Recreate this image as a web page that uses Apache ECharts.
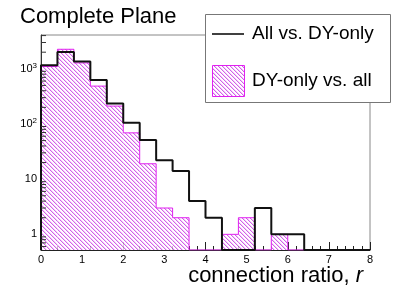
<!DOCTYPE html>
<html>
<head>
<meta charset="utf-8">
<script src="https://cdn.jsdelivr.net/npm/echarts@6.0.0/dist/echarts.min.js"></script>
<style>
html,body{margin:0;padding:0;background:#fff;}
#c{width:411px;height:295px;}
</style>
</head>
<body>
<div id="c"></div>
<script>
// ---- data ----
var binStart = 0;
var binWidth = 0.4;
var allVsDY = [1160, 2020, 1350, 625, 236, 105, 51, 22, 14, 4, 2, 0, 0, 3, 1, 1, 0, 0, 0, 0];
var dyVsAll = [1100, 2260, 1280, 486, 211, 69, 19, 3, 2, 0, 0, 1, 2, 0, 1, 0, 0, 0, 0, 0];
var xTicks = [0, 1, 2, 3, 4, 5, 6, 7, 8];
var minorMult = [2, 3, 4, 5, 6, 7, 8, 9];
var decades = [0.1, 1, 10, 100, 1000];
var yMin = 0.52, yMax = 4100;
var xMin = 0, xMax = 8;

var FONT = "'Liberation Sans', Arial, Helvetica, sans-serif";

// hatch pattern
function makeHatch() {
  var p = 4;
  var cv = document.createElement('canvas');
  cv.width = p * 4; cv.height = p * 4;
  var ctx = cv.getContext('2d');
  var img = ctx.createImageData(cv.width, cv.height);
  for (var y = 0; y < cv.height; y++) {
    for (var x = 0; x < cv.width; x++) {
      var d = ((x - y) % p + p) % p;
      var c;
      if (d === 0) c = [208, 100, 232];
      else if (d === 1) c = [246, 200, 251];
      else c = [255, 255, 255];
      var k = (y * cv.width + x) * 4;
      img.data[k] = c[0]; img.data[k + 1] = c[1]; img.data[k + 2] = c[2]; img.data[k + 3] = 255;
    }
  }
  ctx.putImageData(img, 0, 0);
  return cv;
}
var hatch = makeHatch();

function stepData(vals) {
  var pts = [[binStart, yMin]];
  for (var i = 0; i < vals.length; i++) {
    var x0 = binStart + i * binWidth;
    pts.push([x0, vals[i] > 0 ? vals[i] : yMin]);
  }
  var last = vals[vals.length - 1];
  pts.push([binStart + vals.length * binWidth, last > 0 ? last : yMin]);
  return pts;
}
function barData(vals) {
  var out = [];
  for (var i = 0; i < vals.length; i++) {
    if (vals[i] > 0) out.push([binStart + i * binWidth, binStart + (i + 1) * binWidth, vals[i]]);
  }
  return out;
}
var minorVals = [];
decades.forEach(function (d) {
  minorMult.forEach(function (m) {
    var v = d * m;
    if (v > yMin && v < yMax) minorVals.push([0, v]);
  });
});

var chart = echarts.init(document.getElementById('c'), null, {renderer: 'canvas'});
chart.setOption({
  animation: false,
  backgroundColor: '#fff',
  grid: {left: 41, right: 41, top: 35, bottom: 45, show: true, borderColor: '#888', borderWidth: 1, backgroundColor: 'transparent'},
  xAxis: {
    type: 'value', min: xMin, max: xMax, interval: 1,
    axisLine: {show: true, lineStyle: {color: '#222', width: 1}},
    axisTick: {show: true, inside: true, length: 8, lineStyle: {color: '#222'}},
    minorTick: {show: true, splitNumber: 5, length: 4, lineStyle: {color: '#222'}},
    axisLabel: {color: '#000', fontSize: 11, fontFamily: FONT, margin: 4},
    splitLine: {show: false}
  },
  yAxis: {
    type: 'log', logBase: 10, min: yMin, max: yMax,
    axisLine: {show: true, onZero: false, lineStyle: {color: '#333', width: 1}},
    axisTick: {show: true, inside: true, length: 9, lineStyle: {color: '#333'}},
    axisLabel: {
      color: '#000', fontSize: 11, fontFamily: FONT, margin: 4,
      showMinLabel: false, showMaxLabel: false,
      formatter: function (v) {
        var e = Math.round(Math.log10(v));
        if (Math.abs(Math.log10(v) - e) > 0.01) return '';
        if (e === 0) return '1';
        if (e === 1) return '10';
        return '10{s|' + e + '}';
      },
      rich: {s: {fontSize: 8, fontFamily: FONT, color: '#000', verticalAlign: 'top', padding: [0, 0, 6, 0]}}
    },
    splitLine: {show: false}
  },
  series: [
    {
      type: 'custom', name: 'DY-only vs. all', data: barData(dyVsAll),
      encode: {x: [0, 1], y: 2}, z: 2,
      renderItem: function (params, api) {
        var p0 = api.coord([api.value(0), api.value(2)]);
        var p1 = api.coord([api.value(1), yMin]);
        return {type: 'rect', shape: {x: p0[0], y: p0[1], width: p1[0] - p0[0], height: p1[1] - p0[1]},
          style: {fill: {image: hatch, repeat: 'repeat'}, stroke: null}};
      }
    },
    {
      type: 'line', name: 'dy outline', data: stepData(dyVsAll), step: 'end', symbol: 'none', z: 3,
      lineStyle: {color: '#e020f0', width: 1}
    },
    {
      type: 'line', name: 'All vs. DY-only', data: stepData(allVsDY), step: 'end', symbol: 'none', z: 4,
      lineStyle: {color: '#111', width: 2}
    },
    {
      type: 'custom', name: 'minor', data: minorVals, z: 5, silent: true,
      renderItem: function (params, api) {
        var p = api.coord([xMin, api.value(1)]);
        return {type: 'line', shape: {x1: p[0], y1: p[1], x2: p[0] + 5, y2: p[1]}, style: {stroke: '#333', lineWidth: 1}};
      }
    }
  ],
  graphic: [
    {type: 'text', z: 100, x: 20, y: 6, style: {text: 'Complete Plane', font: '22px ' + FONT, fill: '#000', verticalAlign: 'top'}},
    {type: 'rect', z: 100, shape: {x: 205.5, y: 14.5, width: 185, height: 88}, style: {fill: '#fff', stroke: '#777', lineWidth: 1}},
    {type: 'line', z: 101, shape: {x1: 212, y1: 34, x2: 244, y2: 34}, style: {stroke: '#000', lineWidth: 1.5}},
    {type: 'text', z: 101, x: 252, y: 34, style: {text: 'All vs. DY-only', font: '19px ' + FONT, fill: '#000', verticalAlign: 'middle'}},
    {type: 'rect', z: 101, shape: {x: 212.5, y: 65.5, width: 32, height: 31}, style: {fill: {image: hatch, repeat: 'repeat'}, stroke: '#e020f0', lineWidth: 1}},
    {type: 'text', z: 101, x: 252, y: 81, style: {text: 'DY-only vs. all', font: '19px ' + FONT, fill: '#000', verticalAlign: 'middle'}},
    {type: 'text', z: 101, x: 363, y: 287, style: {
      text: 'connection ratio, {i|r}', font: '22px ' + FONT, fill: '#000', align: 'right', verticalAlign: 'bottom',
      rich: {i: {fontStyle: 'italic', fontSize: 22, fontFamily: FONT, fill: '#000'}}
    }}
  ]
});
</script>
</body>
</html>
